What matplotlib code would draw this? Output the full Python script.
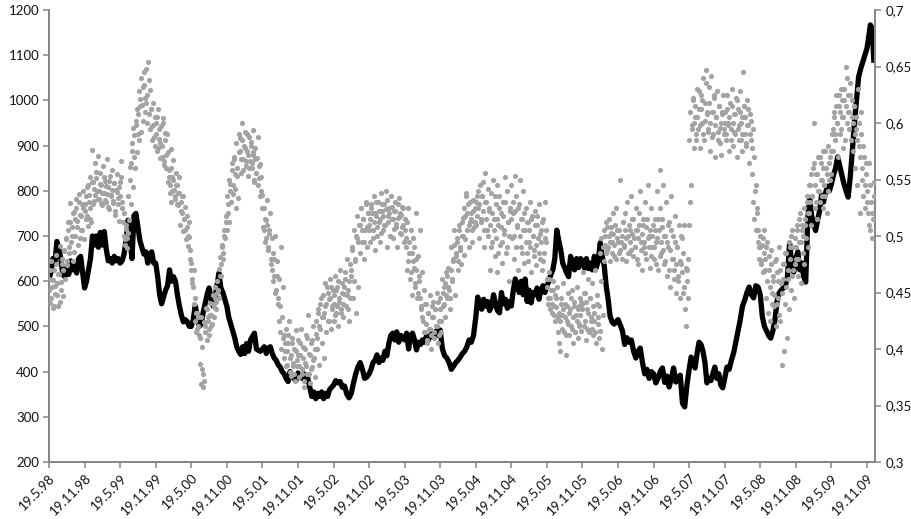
import numpy as np
import matplotlib.pyplot as plt

plt.rcParams['font.family'] = ['Lato', 'DejaVu Sans']

date_labels = ["19.5.98", "19.11.98", "19.5.99", "19.11.99", "19.5.00", "19.11.00",
               "19.5.01", "19.11.01", "19.5.02", "19.11.02", "19.5.03", "19.11.03",
               "19.5.04", "19.11.04", "19.5.05", "19.11.05", "19.5.06", "19.11.06",
               "19.5.07", "19.11.07", "19.5.08", "19.11.08", "19.5.09", "19.11.09"]
left_ticks = [200, 300, 400, 500, 600, 700, 800, 900, 1000, 1100, 1200]
right_ticks = [0.3, 0.35, 0.4, 0.45, 0.5, 0.55, 0.6, 0.65, 0.7]
right_labels = ["0,3", "0,35", "0,4", "0,45", "0,5", "0,55", "0,6", "0,65", "0,7"]

# black series, left axis, one list per half year
black_98a = [605,620,650,640,688,670,650,615,610,628,615,645,625,640,618,650,655,620]
black_98b = [585,600,625,650,700,680,700,675,708,680,710,670,645,650,640,655,645,650]
black_99a = [640,645,660,690,735,690,650,745,750,720,690,675,660,665,640,660,665,640]
black_99b = [640,610,570,550,565,580,590,625,600,610,600,570,545,525,510,515,510,500]
black_00a = [500,515,545,525,500,505,530,550,570,585,565,545,560,590,618,585,575,560]
black_00b = [545,520,505,490,475,455,445,438,455,440,462,445,470,478,485,450,447,445]
black_01a = [450,455,440,452,455,440,430,425,415,410,400,395,385,378,400,390,385,380]
black_01b = [397,388,385,395,380,385,365,345,355,340,352,345,355,340,352,345,360,365]
black_02a = [370,380,375,378,365,368,350,342,352,375,395,410,420,405,385,388]
black_02b = [395,405,420,425,437,420,430,425,445,435,462,480,485,470,488,465,480,475]
black_03a = [470,485,450,478,485,470,448,465,460,470,465,478,470,480,485,475,490,480]
black_03b = [492,450,435,430,420,405,412,420,425,432,440,445,455,470,465,480]
black_04a = [520,565,545,538,560,545,555,535,545,570,550,535,530,575,550,560,540,555]
black_04b = [545,580,605,590,575,600,570,605,555,580,552,575,570,585,560,580,590,575]
black_05a = [590,600,615,625,650,713,690,670,640,630,618,610,655,640,625,650,630,650]
black_05b = [645,629,650,628,640,625,655,630,645,685,655,635,590,560,522,510,505,510]
black_06a = [515,503,490,460,475,465,470,445,430,445,452,420,395,405,385,400]
black_06b = [395,375,385,400,408,376,390,366,385,408,377,385,392,330,322,370]
black_07a = [405,432,420,408,440,465,460,445,420,375,385,380,395,410,385,395,370,364]
black_07b = [385,410,405,425,441,465,490,515,545,558,575,587,570,563,590,587]
black_08a = [570,521,500,490,480,474,490,514,555,574,580,585,590,610,684,640,620]
black_08b = [650,665,625,640,610,598,735,785,745,725,712,735,755,790,775,795,810,800]
black_09a = [815,835,850,875,855,835,815,800,786,830,888,950,1000,1052,1070,1085,1100]
black_09b = [1115,1140,1167,1160,1089]

# grey series, right axis, one list per half year
grey_98a = [.462,.441,.478,.455,.436,.470,.449,.483,.458,.438,.466,.491,.452,.475,.447,.487,.462,.498,.474,.512,.485,.529,.495,.508,.478,.521,.500,.533,.513,.492,.537,.519,.505,.528,.540,.497]
grey_98b = [.528,.515,.543,.509,.536,.552,.525,.512,.576,.548,.531,.565,.557,.540,.571,.533,.556,.545,.527,.562,.538,.549,.530,.568,.543,.524,.553,.536,.558,.529,.547,.519,.541,.555,.534,.513]
grey_99a = [.548,.566,.530,.512,.520,.497,.506,.489,.503,.514,.561,.528,.575,.543,.589,.560,.598,.574,.608,.585,.621,.592,.616,.602,.634,.610,.648,.625,.654,.638,.629,.612,.597,.618,.588,.605]
grey_99b = [.600,.575,.612,.586,.569,.597,.580,.604,.563,.591,.572,.590,.548,.558,.538,.577,.530,.552,.567,.541,.533,.556,.545,.527,.538,.510,.522,.535,.504,.515,.526,.497,.508,.491,.499,.480]
grey_00a = [.476,.462,.455,.470,.445,.432,.418,.428,.412,.387,.369,.382,.366,.424,.415,.436,.408,.428,.418,.441,.430,.422,.448,.437,.455,.442,.460,.452,.471,.481,.465,.492,.485,.505,.498,.518]
grey_00b = [.505,.528,.512,.546,.530,.558,.537,.568,.542,.525,.553,.534,.574,.587,.556,.600,.568,.580,.592,.562,.575,.553,.588,.566,.583,.560,.594,.572,.548,.578,.556,.569,.588,.551,.564,.540]
grey_01a = [.536,.508,.525,.495,.514,.532,.490,.505,.520,.475,.498,.485,.465,.500,.452,.478,.445,.462,.438,.490,.428,.455,.412,.398,.418,.386,.405,.425,.392,.376,.410,.385,.400,.372,.417,.390]
grey_01b = [.408,.375,.395,.418,.382,.402,.366,.388,.412,.378,.430,.396,.370,.405,.384,.420,.392,.375,.413,.400,.432,.386,.418,.445,.405,.428,.392,.438,.415,.455,.425,.444,.462,.418,.435,.452]
grey_02a = [.425,.448,.465,.432,.455,.420,.442,.470,.435,.458,.428,.449,.462,.438,.480,.452,.425,.445,.470,.488,.445,.460,.478,.432,.498,.455,.510,.485,.525,.495,.515,.480,.505,.530,.490,.520]
grey_02b = [.510,.495,.528,.520,.505,.535,.488,.518,.500,.530,.512,.495,.538,.522,.505,.528,.510,.540,.490,.518,.525,.500,.535,.515,.498,.522,.530,.508,.490,.516,.534,.520,.502,.526,.510,.495]
grey_03a = [.515,.498,.470,.525,.485,.462,.505,.448,.478,.490,.455,.520,.470,.445,.482,.460,.505,.438,.468,.425,.452,.415,.440,.405,.432,.418,.448,.400,.428,.442,.410,.435,.420,.450,.405,.425]
grey_03b = [.445,.415,.462,.438,.455,.428,.468,.445,.472,.452,.435,.490,.462,.478,.505,.448,.482,.495,.470,.510,.488,.475,.500,.516,.483,.497,.538,.505,.528,.490,.512,.520,.495,.532,.508,.525]
grey_04a = [.510,.535,.525,.498,.545,.515,.535,.548,.490,.556,.530,.505,.542,.522,.470,.538,.495,.550,.515,.482,.528,.545,.468,.510,.535,.492,.520,.476,.530,.505,.552,.485,.540,.512,.460,.525]
grey_04b = [.545,.498,.520,.480,.553,.535,.508,.470,.528,.550,.490,.515,.540,.476,.505,.525,.485,.512,.495,.530,.468,.518,.500,.488,.522,.474,.510,.498,.528,.480,.505,.470,.515,.485,.530,.495]
grey_05a = [.462,.445,.468,.435,.452,.440,.460,.430,.448,.437,.455,.428,.405,.398,.445,.430,.458,.415,.440,.395,.425,.450,.412,.435,.420,.452,.405,.442,.415,.430,.455,.410,.438,.422,.445,.416]
grey_05b = [.440,.468,.420,.450,.408,.435,.462,.415,.445,.425,.458,.412,.432,.470,.405,.448,.422,.438,.416,.460,.400,.430,.478,.500,.485,.508,.490,.515,.478,.503,.495,.520,.482,.510,.525,.498]
grey_06a = [.505,.485,.550,.495,.480,.512,.490,.520,.478,.530,.500,.485,.505,.535,.515,.482,.498,.490,.525,.505,.475,.520,.540,.495,.470,.510,.490,.530,.480,.515,.545,.500,.472,.525,.490,.510]
grey_06b = [.480,.515,.495,.540,.470,.505,.525,.558,.485,.515,.545,.475,.500,.530,.465,.490,.512,.455,.535,.480,.500,.470,.518,.450,.490,.465,.510,.445,.475,.498,.450,.510,.435,.420,.470,.445]
grey_07a = [.510,.530,.545,.598,.620,.578,.605,.585,.630,.595,.612,.578,.625,.600,.640,.585,.618,.647,.608,.592,.632,.575,.642,.610,.590,.622,.570,.605,.628,.585,.615,.596,.572,.608,.625,.590]
grey_07b = [.610,.585,.625,.600,.575,.618,.595,.630,.580,.608,.590,.622,.570,.612,.598,.628,.585,.605,.575,.645,.615,.590,.580,.620,.598,.565,.608,.585,.555,.530,.515,.540,.505,.525,.495,.480]
grey_08a = [.500,.475,.492,.468,.505,.480,.445,.495,.432,.470,.425,.488,.450,.460,.438,.478,.420,.468,.445,.490,.425,.458,.386,.475,.398,.440,.485,.410,.462,.435,.490,.452,.505,.470,.445,.498]
grey_08b = [.480,.510,.465,.495,.520,.458,.505,.485,.475,.515,.498,.530,.490,.520,.545,.510,.535,.560,.600,.525,.555,.515,.570,.540,.530,.565,.550,.525,.575,.545,.535,.560,.520,.580,.550,.570]
grey_09a = [.555,.590,.575,.610,.585,.625,.600,.570,.615,.590,.630,.605,.578,.620,.585,.650,.640,.610,.595,.625,.585,.605,.575,.615,.560,.595,.545,.630,.580,.520,.610,.550,.535,.570,.525,.555]
grey_09b = [.540,.520,.565,.505,.530,.498,.515,.548]

# second reading of the grey dots, the dense core of each half year
core_98a = [.452,.470,.445,.461,.438,.456,.475,.448,.466,.442,.459,.480,.470,.488,.497,.478,.505,.490,.512,.500,.520,.486,.515,.525,.508,.530,.498,.518,.505,.525]
core_98b = [.522,.535,.518,.545,.530,.515,.548,.528,.542,.536,.551,.533,.540,.546,.529,.538,.552,.532,.544,.537,.526,.549,.535,.541,.531,.547,.522,.539,.528,.543]
core_99a = [.535,.552,.525,.500,.492,.510,.498,.535,.550,.565,.582,.596,.570,.602,.612,.590,.628,.615,.640,.632,.645,.622,.618,.600,.608,.595,.612,.585,.598,.580]
core_99b = [.590,.605,.578,.595,.582,.570,.600,.566,.585,.560,.574,.552,.545,.560,.540,.550,.535,.545,.528,.538,.552,.530,.520,.535,.515,.505,.518,.500,.512,.488]
core_00a = [.470,.458,.440,.425,.415,.432,.420,.410,.428,.402,.378,.372,.420,.435,.425,.412,.430,.420,.440,.428,.445,.435,.450,.445,.465,.475,.490,.480,.500,.512]
core_00b = [.535,.520,.550,.540,.565,.545,.570,.555,.582,.560,.590,.575,.568,.585,.558,.578,.566,.590,.572,.560,.580,.565,.574,.550,.568,.556,.545,.562,.535,.552]
core_01a = [.525,.505,.515,.498,.510,.488,.502,.480,.470,.460,.480,.450,.465,.440,.425,.415,.400,.410,.392,.405,.385,.398,.412,.380,.395,.405,.388,.378,.398,.385]
core_01b = [.395,.385,.405,.378,.392,.372,.400,.385,.410,.378,.395,.382,.408,.390,.400,.425,.410,.435,.420,.440,.428,.448,.432,.458,.440,.450,.425,.445,.455,.438]
core_02a = [.440,.430,.452,.438,.460,.445,.432,.450,.440,.455,.468,.448,.435,.460,.475,.465,.490,.505,.480,.500,.518,.495,.510,.525,.505,.515,.495,.528,.508,.520]
core_02b = [.505,.515,.525,.498,.512,.520,.530,.508,.522,.515,.503,.528,.518,.510,.524,.532,.512,.520,.500,.526,.515,.506,.522,.511,.528,.517,.503,.519,.508,.525]
core_03a = [.505,.490,.512,.478,.495,.468,.485,.498,.472,.458,.480,.450,.465,.445,.435,.428,.415,.440,.422,.408,.432,.418,.412,.438,.428,.415,.435,.420,.442,.412]
core_03b = [.435,.425,.450,.440,.458,.448,.465,.455,.445,.470,.460,.480,.492,.485,.498,.478,.505,.490,.512,.500,.525,.518,.535,.520,.510,.530,.515,.505,.522,.512]
core_04a = [.530,.518,.540,.528,.512,.535,.522,.505,.530,.515,.500,.525,.510,.490,.520,.505,.535,.498,.515,.485,.525,.508,.495,.518,.502,.530,.490,.512,.500,.522]
core_04b = [.515,.530,.500,.522,.490,.510,.525,.500,.515,.485,.505,.520,.495,.512,.478,.505,.490,.515,.500,.482,.510,.492,.518,.485,.502,.495,.512,.478,.498,.505]
core_05a = [.455,.440,.462,.445,.432,.452,.438,.425,.445,.415,.432,.425,.440,.418,.435,.428,.412,.438,.422,.432,.445,.418,.428,.438,.415,.425,.435,.420,.430,.442]
core_05b = [.435,.450,.425,.442,.418,.432,.445,.428,.418,.438,.425,.415,.440,.428,.410,.485,.498,.490,.505,.492,.512,.488,.500,.495,.508,.485,.502,.492,.480,.505]
core_06a = [.495,.505,.488,.500,.512,.492,.505,.498,.485,.510,.495,.488,.502,.515,.490,.505,.480,.498,.510,.488,.502,.515,.495,.485,.508,.498,.490,.505,.482,.500]
core_06b = [.490,.505,.475,.498,.515,.482,.495,.508,.488,.500,.478,.495,.510,.470,.488,.505,.480,.462,.495,.475,.490,.460,.478,.500,.468,.485,.455,.472,.460,.480]
core_07a = [.585,.610,.595,.622,.600,.615,.590,.605,.628,.598,.612,.620,.590,.602,.635,.610,.595,.618,.600,.588,.610,.625,.598,.605,.592,.615,.582,.600,.610,.595]
core_07b = [.600,.590,.612,.598,.605,.585,.615,.600,.592,.608,.620,.595,.585,.610,.600,.590,.615,.605,.582,.598,.612,.590,.602,.578,.595,.570,.545,.520,.505,.490]
core_08a = [.490,.478,.498,.485,.470,.490,.460,.482,.455,.475,.440,.465,.448,.480,.440,.460,.430,.470,.450,.462,.475,.485,.455,.470,.495,.480,.500,.465,.490,.475]
core_08b = [.490,.505,.480,.515,.495,.510,.500,.525,.510,.535,.520,.545,.530,.555,.535,.565,.545,.530,.555,.540,.570,.550,.535,.560,.545,.575,.555,.540,.565,.550]
core_09a = [.575,.595,.605,.590,.615,.600,.625,.610,.595,.620,.605,.630,.615,.600,.625,.610,.635,.620,.600,.615,.590,.605,.585,.600,.570,.590,.560,.580,.545,.565]
core_09b = [.530,.510,.545,.520,.535]

black_parts = [black_98a, black_98b, black_99a, black_99b, black_00a, black_00b,
               black_01a, black_01b, black_02a, black_02b, black_03a, black_03b,
               black_04a, black_04b, black_05a, black_05b, black_06a, black_06b,
               black_07a, black_07b, black_08a, black_08b, black_09a, black_09b]
grey_parts = [grey_98a, grey_98b, grey_99a, grey_99b, grey_00a, grey_00b,
              grey_01a, grey_01b, grey_02a, grey_02b, grey_03a, grey_03b,
              grey_04a, grey_04b, grey_05a, grey_05b, grey_06a, grey_06b,
              grey_07a, grey_07b, grey_08a, grey_08b, grey_09a, grey_09b]
core_parts = [core_98a, core_98b, core_99a, core_99b, core_00a, core_00b,
              core_01a, core_01b, core_02a, core_02b, core_03a, core_03b,
              core_04a, core_04b, core_05a, core_05b, core_06a, core_06b,
              core_07a, core_07b, core_08a, core_08b, core_09a, core_09b]

# the series stops about a quarter into the last half year
LAST_SPAN = 0.24


def spread(parts):
    t, v = [], []
    for i, part in enumerate(parts):
        span = LAST_SPAN if i == len(parts) - 1 else 1
        t.extend(i + np.arange(len(part)) / len(part) * span)
        v.extend(part)
    return np.array(t), np.array(v)


black_t, black_v = spread(black_parts)
grey_t, grey_v = spread(grey_parts)
core_t, core_v = spread(core_parts)

AXIS = "#868686"
fig, ax = plt.subplots(figsize=(9.12, 5.19), dpi=100)
fig.subplots_adjust(left=49 / 912, right=875.5 / 912, top=1 - 10 / 519, bottom=1 - 462 / 519)

ax.plot(black_t, black_v, color="black", lw=3.8, solid_joinstyle="round")
ax.set_xlim(0, 23 + LAST_SPAN)
ax.set_ylim(200, 1200)
ax.set_yticks(left_ticks)
ax.set_xticks(range(len(date_labels)))
ax.set_xticklabels(date_labels, rotation=45, ha="right", rotation_mode="anchor")

ax2 = ax.twinx()
ax2.scatter(np.r_[grey_t, core_t], np.r_[grey_v, core_v], s=14, color="#a3a3a3", linewidths=0, zorder=3)
ax2.set_ylim(0.3, 0.7)
ax2.set_yticks(right_ticks)
ax2.set_yticklabels(right_labels)

for a in (ax, ax2):
    a.spines["top"].set_visible(False)
    for side in ("left", "right", "bottom"):
        a.spines[side].set_color(AXIS)
        a.spines[side].set_linewidth(1.3)
    a.tick_params(axis="both", length=4, width=1.1, color=AXIS, labelsize=9.5, pad=3, labelcolor="#111111")

fig.savefig("out.png", dpi=100)
